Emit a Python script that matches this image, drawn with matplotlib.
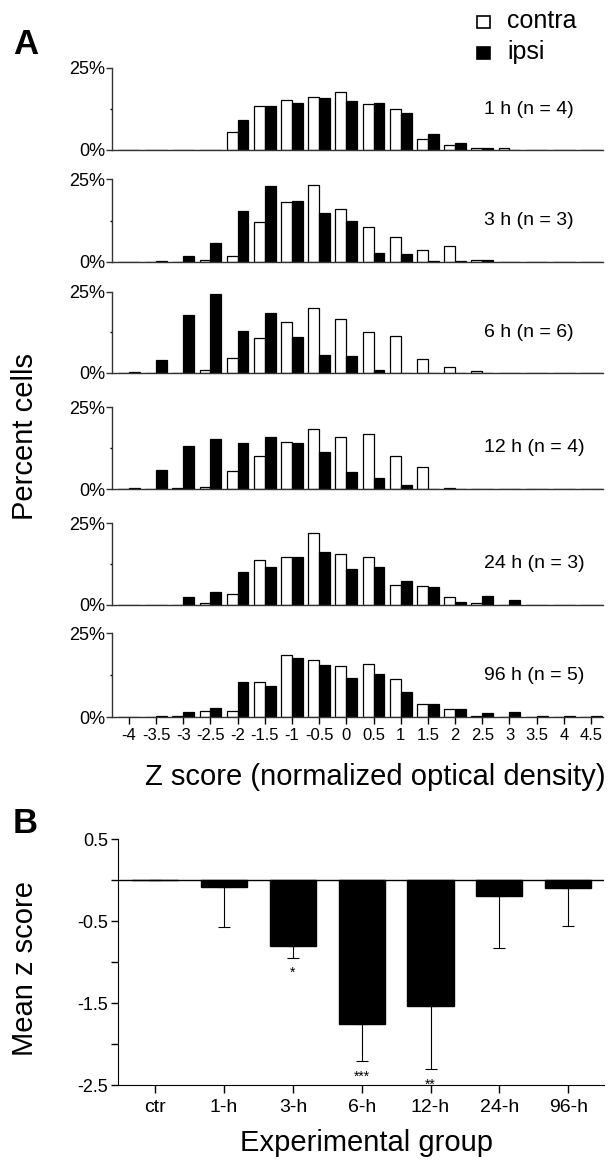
import numpy as np
import matplotlib.pyplot as plt
from matplotlib.patches import Rectangle

plt.rcParams['font.family'] = ['Liberation Sans', 'DejaVu Sans']
plt.rcParams['axes.unicode_minus'] = False

# --- data: panel A, percent of cells per z-score bin ---
z_centers = [-4, -3.5, -3, -2.5, -2, -1.5, -1, -0.5, 0, 0.5, 1, 1.5, 2, 2.5, 3, 3.5, 4, 4.5]
z_labels = ['-4', '-3.5', '-3', '-2.5', '-2', '-1.5', '-1', '-0.5', '0', '0.5',
            '1', '1.5', '2', '2.5', '3', '3.5', '4', '4.5']

panel_names = ['1 h (n = 4)', '3 h (n = 3)', '6 h (n = 6)', '12 h (n = 4)', '24 h (n = 3)', '96 h (n = 5)']

contra_1h = [0, 0, 0, 0, 5.4, 13.3, 15.3, 16.3, 17.8, 13.9, 12.4, 3.4, 1.5, 0.6, 0.5, 0, 0, 0]
ipsi_1h = [0, 0, 0, 0, 9.2, 13.5, 14.3, 16.0, 14.8, 14.3, 11.2, 4.8, 2.2, 0.5, 0, 0, 0, 0]

contra_3h = [0, 0, 0, 0.5, 1.7, 12.1, 18.2, 23.2, 16.1, 10.6, 7.6, 3.5, 4.8, 0.5, 0, 0, 0, 0]
ipsi_3h = [0, 0.4, 1.9, 5.6, 15.5, 22.9, 18.4, 14.8, 12.4, 2.8, 2.5, 0.4, 0.4, 0.5, 0, 0, 0, 0]

contra_6h = [0, 0, 0, 1.0, 4.6, 10.8, 15.8, 20.1, 16.8, 12.8, 11.4, 4.3, 2.0, 0.7, 0, 0, 0, 0]
ipsi_6h = [0.4, 3.9, 17.8, 24.5, 13.0, 18.5, 11.2, 5.5, 5.4, 0.8, 0, 0, 0, 0, 0, 0, 0, 0]

contra_12h = [0, 0, 0.3, 0.7, 5.5, 10.1, 14.2, 18.2, 15.8, 16.7, 10.1, 6.7, 0.3, 0, 0, 0, 0, 0]
ipsi_12h = [0.3, 5.7, 13.1, 15.2, 13.9, 15.8, 13.9, 11.2, 5.2, 3.3, 1.3, 0, 0, 0, 0, 0, 0, 0]

contra_24h = [0, 0, 0, 0.5, 3.3, 13.8, 14.5, 21.9, 15.4, 14.5, 6.2, 5.7, 2.3, 0.7, 0, 0, 0, 0]
ipsi_24h = [0, 0, 2.3, 3.9, 10.2, 11.5, 14.5, 16.1, 11.1, 11.5, 7.4, 5.4, 0.9, 2.8, 1.4, 0, 0, 0]

contra_96h = [0, 0, 0.3, 1.7, 1.8, 10.5, 18.5, 17.0, 15.2, 15.8, 11.3, 4.0, 2.3, 0.3, 0, 0, 0, 0]
ipsi_96h = [0, 0.4, 1.6, 2.8, 10.5, 9.2, 17.7, 15.5, 11.7, 12.7, 7.5, 3.8, 2.3, 1.2, 1.5, 0.3, 0.3, 0.3]

contra_all = [contra_1h, contra_3h, contra_6h, contra_12h, contra_24h, contra_96h]
ipsi_all = [ipsi_1h, ipsi_3h, ipsi_6h, ipsi_12h, ipsi_24h, ipsi_96h]

# --- data: panel B, mean z score per group ---
groups = ['ctr', '1-h', '3-h', '6-h', '12-h', '24-h', '96-h']
mean_z = [0, -0.085, -0.81, -1.76, -1.54, -0.19, -0.10]
err_low = [0, 0.485, 0.14, 0.45, 0.77, 0.64, 0.46]
stars = ['', '', '*', '***', '**', '', '']

W, H = 610, 1165
fig = plt.figure(figsize=(W / 100, H / 100), dpi=100)


def px_rect(left, top, right, bottom):
    return [left / W, 1 - bottom / H, (right - left) / W, (bottom - top) / H]


# panel A
tops = [68, 179, 292, 407, 523, 633]
bottoms = [150, 262, 373, 489, 605, 717]
zc = np.array(z_centers)
for i in range(6):
    ax = fig.add_axes(px_rect(112, tops[i], 603, bottoms[i]))
    ax.bar(zc - 0.1, contra_all[i], width=0.2, color='white', edgecolor='black', linewidth=0.9)
    ax.bar(zc + 0.1, ipsi_all[i], width=0.2, color='black', edgecolor='black', linewidth=0.9)
    ax.set_xlim(-4.31, 4.72)
    ax.set_ylim(0, 25)
    for s in ['top', 'right']:
        ax.spines[s].set_visible(False)
    for s in ['left', 'bottom']:
        ax.spines[s].set_linewidth(1.0)
        ax.spines[s].set_color('#333333')
    ax.set_yticks([0, 25])
    ax.set_yticklabels(['0%', '25%'], fontsize=13)
    ax.set_yticks([12.5], minor=True)
    ax.tick_params(axis='y', which='major', direction='out', length=4, width=1, pad=1,
                   colors='#333333', labelcolor='black')
    ax.tick_params(axis='y', which='minor', direction='out', length=1.5, width=1)
    # group label, at the vertical centre of its panel
    fig.text(484 / W, 1 - (tops[i] + bottoms[i]) / 2 / H, panel_names[i], fontsize=14,
             ha='left', va='center')
    if i < 5:
        ax.set_xticks([])
    else:
        ax.set_xticks(z_centers)
        ax.set_xticklabels(z_labels, fontsize=12)
        ax.tick_params(axis='x', direction='out', length=5, width=1, pad=3)

fig.text(375 / W, 1 - 777 / H, 'Z score (normalized optical density)', fontsize=21,
         ha='center', va='center')
fig.text(25 / W, 1 - 437 / H, 'Percent cells', fontsize=21, rotation=90,
         ha='center', va='center')
fig.text(13 / W, 1 - 54 / H, 'A', fontsize=25, fontweight='bold', ha='left', va='baseline')

# legend
fig.patches.append(Rectangle((477 / W, 1 - 28 / H), 13 / W, 12 / H, transform=fig.transFigure,
                             facecolor='white', edgecolor='black', linewidth=1.2, figure=fig))
fig.patches.append(Rectangle((477 / W, 1 - 59 / H), 13 / W, 12 / H, transform=fig.transFigure,
                             facecolor='black', edgecolor='black', linewidth=1.2, figure=fig))
fig.text(507 / W, 1 - 28 / H, 'contra', fontsize=18, ha='left', va='baseline')
fig.text(507 / W, 1 - 59 / H, 'ipsi', fontsize=18, ha='left', va='baseline')

# panel B
axb = fig.add_axes(px_rect(118, 839, 604, 1085))
xb = np.arange(len(groups))
axb.bar(xb, mean_z, width=0.67, color='black', edgecolor='black')
axb.errorbar(xb, mean_z, yerr=[err_low, [0] * len(groups)], fmt='none', ecolor='black',
             elinewidth=0.8, capsize=4, capthick=0.8)
axb.axhline(0, color='black', linewidth=1.0)
for x, m, e, s in zip(xb, mean_z, err_low, stars):
    if s:
        axb.text(x, m - e - 0.1, s, ha='center', va='top', fontsize=10)
axb.set_xlim(-0.54, 6.52)
axb.set_ylim(-2.5, 0.5)
for s in ['top', 'right']:
    axb.spines[s].set_visible(False)
axb.set_yticks([0.5, 0, -0.5, -1, -1.5, -2, -2.5])
axb.set_yticklabels(['0.5', '', '-0.5', '', '-1.5', '', '-2.5'], fontsize=13)
axb.set_xticks(xb)
axb.set_xticklabels(groups, fontsize=14)
axb.tick_params(axis='y', direction='out', length=5, width=1, pad=2)
axb.tick_params(axis='x', direction='out', length=6, width=1, pad=4)

fig.text(366 / W, 1 - 1143 / H, 'Experimental group', fontsize=21, ha='center', va='center')
fig.text(25 / W, 1 - 968 / H, 'Mean z score', fontsize=21, rotation=90, ha='center', va='center')
fig.text(13 / W, 1 - 833 / H, 'B', fontsize=25, fontweight='bold', ha='left', va='baseline')

fig.savefig('out.png', dpi=100)
